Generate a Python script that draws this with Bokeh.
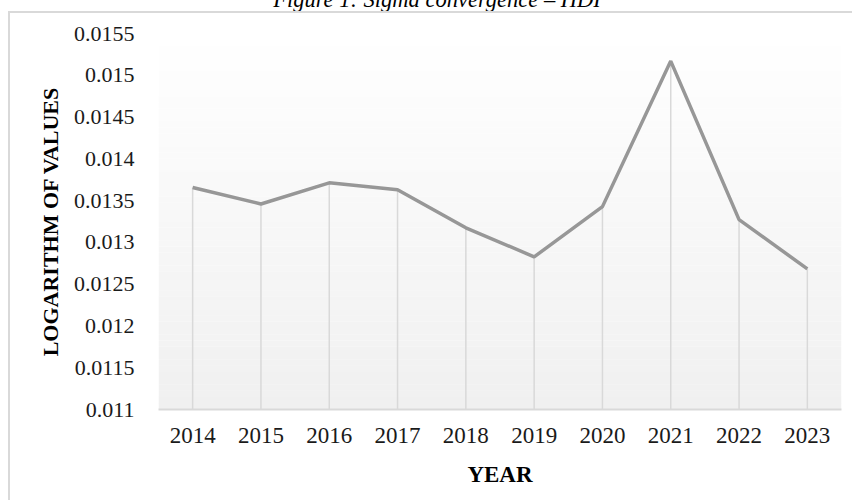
from bokeh.plotting import figure
from bokeh.models import FactorRange, Range1d, FixedTicker, CustomJSTickFormatter, Div, ColumnDataSource
from bokeh.layouts import column
from bokeh.embed import file_html
from bokeh.resources import INLINE

# ---- data ----
years = ["2014", "2015", "2016", "2017", "2018", "2019", "2020", "2021", "2022", "2023"]
values = [0.013656, 0.01346, 0.013713, 0.01363, 0.013175, 0.012827, 0.013428, 0.01517, 0.013272, 0.012683]
y_ticks = [0.011, 0.0115, 0.012, 0.0125, 0.013, 0.0135, 0.014, 0.0145, 0.015, 0.0155]
y_min, y_max = 0.011, 0.0155
title_text = "Figure 1: Sigma convergence \u2013 HDI"
x_label = "YEAR"
y_label = "LOGARITHM OF VALUES"

FONT = "Liberation Serif"

p = figure(x_range=FactorRange(*years), y_range=Range1d(y_min, y_max),
           width=844, height=489, output_backend="svg", toolbar_location=None,
           min_border_left=148, min_border_right=13, min_border_top=20, min_border_bottom=93,
           margin=(0, 0, 0, 8))
p.styles = {"border-top": "2px solid #d9d9d9", "border-left": "2px solid #d9d9d9"}

# gradient background of plot area (decorative bands)
n_bands = 60
band_h = (y_max - y_min) / n_bands
bottoms, tops, colors = [], [], []
for i in range(n_bands):
    b = y_min + i * band_h
    bottoms.append(b)
    tops.append(b + band_h * 1.02)
    t = i / (n_bands - 1)
    c = int(round(240 + 15 * t))
    colors.append("#%02x%02x%02x" % (c, c, c))
p.quad(left=[0] * n_bands, right=[len(years)] * n_bands, bottom=bottoms, top=tops,
       fill_color=colors, line_color=None)

src = ColumnDataSource(dict(year=years, value=values, base=[y_min] * len(years)))
p.segment(x0="year", y0="base", x1="year", y1="value", source=src,
          line_color="#d9d9d9", line_width=1.5)
p.line(x="year", y="value", source=src, line_color="#979797", line_width=3.5)

p.xgrid.grid_line_color = None
p.ygrid.grid_line_color = None
p.outline_line_color = None
p.background_fill_color = "white"
p.border_fill_color = "white"

p.yaxis.ticker = FixedTicker(ticks=y_ticks)
p.yaxis.formatter = CustomJSTickFormatter(code="return String(parseFloat(tick.toFixed(4)));")
for ax in (p.xaxis, p.yaxis):
    ax.major_tick_line_color = None
    ax.minor_tick_line_color = None
    ax.major_label_text_font = FONT
    ax.major_label_text_color = "#1a1a1a"
    ax.axis_label_text_font = FONT
    ax.axis_label_text_font_style = "bold"
    ax.axis_label_text_color = "#000000"
p.yaxis.major_label_text_font_size = "22px"
p.xaxis.major_label_text_font_size = "23px"
p.yaxis.axis_label_text_font_size = "22px"
p.xaxis.axis_label_text_font_size = "23px"
p.yaxis.axis_line_color = None
p.xaxis.axis_line_color = "#d9d9d9"
p.xaxis.axis_line_width = 2
p.yaxis.major_label_standoff = 18
p.xaxis.major_label_standoff = 12
p.yaxis.axis_label_standoff = 8
p.xaxis.axis_label_standoff = 16
p.xaxis.axis_label = x_label
p.yaxis.axis_label = y_label

title = Div(text='<span style="padding-left:22px">' + title_text + '</span>',
            width=852, height=21, margin=(-10, 0, 0, 0),
            styles={"text-align": "center", "font-family": FONT, "font-size": "22.5px",
                    "font-style": "italic", "line-height": "19px", "color": "#000000",
                    "white-space": "nowrap"})

layout = column(title, p, margin=(0, 0, 0, 0))
open("out.html", "w").write(file_html(layout, INLINE))
